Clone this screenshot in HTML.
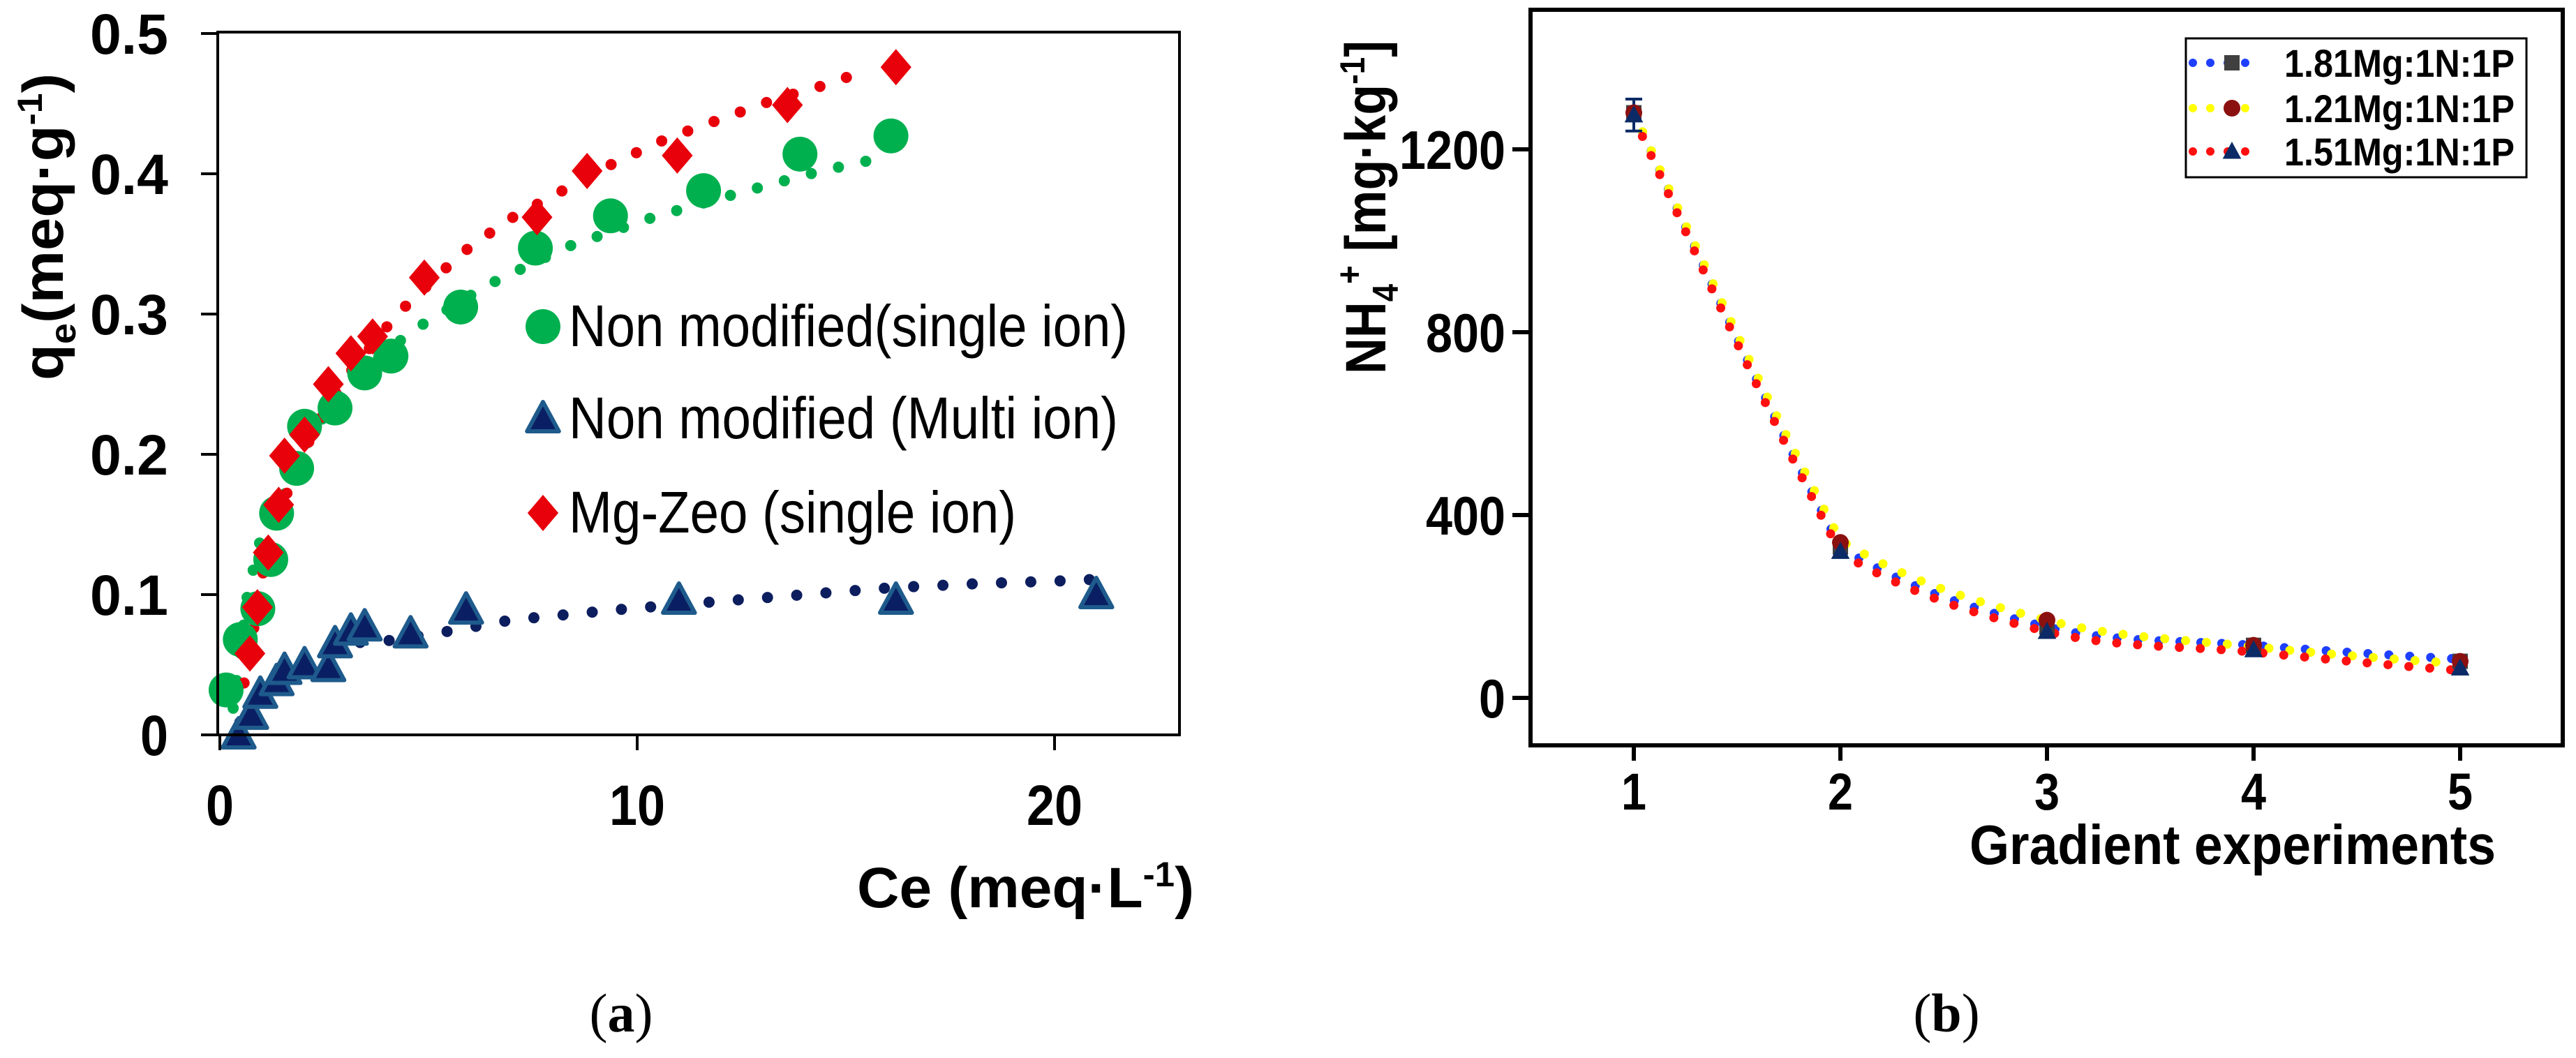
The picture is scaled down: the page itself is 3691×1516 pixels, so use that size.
<!DOCTYPE html>
<html><head><meta charset="utf-8">
<style>
html,body{margin:0;padding:0;background:#fff;}
svg{display:block;}
text{font-family:"Liberation Sans",sans-serif;}
</style></head>
<body>
<svg id="fig" width="3691" height="1516" viewBox="0 0 3691 1516" xmlns="http://www.w3.org/2000/svg">
  <g id="chartA"></g>
  <g id="chartB"></g>
</svg>
<script>
// ---------- Chart (a) data ----------
const aTicksX = [0, 10, 20];
const aTicksY = [0, 0.1, 0.2, 0.3, 0.4, 0.5];
const aTickLabelsY = ["0", "0.1", "0.2", "0.3", "0.4", "0.5"];
const aSingleC = [0.15, 0.49, 0.91, 1.22, 1.36, 1.84, 2.03, 2.76, 3.47, 4.10, 5.77, 7.56, 9.36, 11.59, 13.9, 16.08];
const aSingleQ = [0.032, 0.068, 0.09, 0.125, 0.158, 0.19, 0.22, 0.233, 0.258, 0.27, 0.305, 0.347, 0.37, 0.388, 0.414, 0.427];
const aSingleFitC = [0.32, 0.66, 0.97, 1.36, 2.22, 3.18, 4.66, 6.44, 8.33, 10.38, 12.4, 14.4, 15.8];
const aSingleFitQ = [0.019, 0.10, 0.139, 0.158, 0.216, 0.254, 0.289, 0.321, 0.348, 0.369, 0.386, 0.402, 0.411];
const aMgC = [0.72, 0.9, 1.16, 1.41, 1.55, 2.03, 2.6, 3.14, 3.66, 4.9, 7.6, 8.8, 10.96, 13.6, 16.2];
const aMgQ = [0.058, 0.091, 0.13, 0.164, 0.199, 0.214, 0.25, 0.272, 0.284, 0.326, 0.369, 0.402, 0.413, 0.449, 0.476];
const aMgFitC = [0.58, 0.83, 1.06, 1.36, 1.74, 2.2, 2.6, 3.0, 4.25, 5.78, 6.9, 8.15, 9.4, 10.7, 12.0, 13.3, 14.7, 15.3];
const aMgFitQ = [0.037, 0.079, 0.12, 0.158, 0.18, 0.214, 0.235, 0.254, 0.30, 0.343, 0.367, 0.387, 0.407, 0.425, 0.439, 0.453, 0.465, 0.472];
const aMultiC = [0.45, 0.75, 0.97, 1.36, 1.55, 2.03, 2.6, 2.76, 3.14, 3.47, 4.57, 5.9, 11.0, 16.2, 21.0];
const aMultiQ = [0.0, 0.014, 0.029, 0.038, 0.046, 0.05, 0.048, 0.065, 0.074, 0.077, 0.072, 0.089, 0.096, 0.096, 0.1];
const aMultiFitC = [0.48, 0.87, 1.45, 2.03, 2.8, 3.47, 4.0, 5.5, 7.0, 8.4, 9.8, 11.9, 14.0, 16.1, 18.3, 20.4, 21.0];
const aMultiFitQ = [0.009, 0.024, 0.036, 0.046, 0.06, 0.067, 0.067, 0.074, 0.082, 0.086, 0.09, 0.095, 0.1, 0.105, 0.108, 0.11, 0.111];

// ---------- Chart (b) data ----------
const bTicksX = [1, 2, 3, 4, 5];
const bTicksY = [0, 400, 800, 1200];
const bSeries181 = [1280, 330, 155, 115, 80];
const bSeries121 = [1280, 340, 170, 115, 80];
const bSeries151 = [1275, 320, 145, 105, 65];
const bFit181 = [1280, 330, 155, 115, 85];
const bFit121 = [1280, 345, 170, 112, 75];
const bFit151 = [1270, 318, 145, 100, 60];
const bError1 = 35;

const NS = "http://www.w3.org/2000/svg";
function mk(parent, tag, attrs, text) {
  const e = document.createElementNS(NS, tag);
  for (const k in attrs) e.setAttribute(k, attrs[k]);
  if (text !== undefined) e.textContent = text;
  parent.appendChild(e);
  return e;
}

// ===== Chart A =====
const A = document.getElementById('chartA');
const aX = c => 315 + 59.8 * c;
const aY = q => 1053 - 2010 * q;

function dotted(parent, xs, ys, fx, fy, color, w, gap, name) {
  let d = '';
  xs.forEach((v, i) => { d += (i ? 'L' : 'M') + fx(v).toFixed(1) + ',' + fy(ys[i]).toFixed(1); });
  const p = mk(parent, 'path', {d: d, fill: 'none', stroke: color, 'stroke-width': w, 'stroke-linecap': 'round', 'stroke-dasharray': '0 ' + gap});
  
  
  return p;
}

dotted(A, aSingleFitC, aSingleFitQ, aX, aY, '#00b04f', 16, 40, 'single-ion-fit-line');
dotted(A, aMgFitC, aMgFitQ, aX, aY, '#e8000b', 16, 40, 'mg-zeo-fit-line');
dotted(A, aMultiFitC, aMultiFitQ, aX, aY, '#0c1e5e', 16, 42, 'multi-ion-fit-line');

function circle(parent, x, y, r, fill, name) {
  const c = mk(parent, 'circle', {cx: x, cy: y, r: r, fill: fill});
  
  
  return c;
}
function diamond(parent, x, y, s, fill, name) {
  const p = mk(parent, 'polygon', {points: `${x},${y-s} ${x+s*0.85},${y} ${x},${y+s} ${x-s*0.85},${y}`, fill: fill});
  
  
  return p;
}
function triangle(parent, x, y, s, fill, stroke, sw, name) {
  const p = mk(parent, 'polygon', {points: `${x},${y-s} ${x+s*0.95},${y+s*0.75} ${x-s*0.95},${y+s*0.75}`, fill: fill, stroke: stroke, 'stroke-width': sw, 'stroke-linejoin': 'round'});
  
  
  return p;
}

aSingleC.forEach((c, i) => circle(A, aX(c), aY(aSingleQ[i]), 25, '#00b04f', 'single-ion-point'));
aMultiC.forEach((c, i) => triangle(A, aX(c), aY(aMultiQ[i]), 24, '#0a1f63', '#1e5b8c', 6, 'multi-ion-point'));
aMgC.forEach((c, i) => diamond(A, aX(c), aY(aMgQ[i]), 26, '#e8000b', 'mg-zeo-point'));

const aFrame = mk(A, 'rect', {x: 312, y: 46, width: 1378, height: 1007, fill: 'none', stroke: '#000', 'stroke-width': 4});



aTicksY.forEach((v, i) => {
  const t = mk(A, 'line', {x1: 288, x2: 312, y1: aY(v), y2: aY(v), stroke: '#000', 'stroke-width': 4});
  
  
  const l = mk(A, 'text', {x: 241, y: aY(v) + 29, 'text-anchor': 'end', 'font-size': 82, 'font-weight': 'bold', textLength: aTickLabelsY[i].length > 1 ? 112 : 40, lengthAdjust: 'spacingAndGlyphs'}, aTickLabelsY[i]);
  
  
});
aTicksX.forEach(v => {
  const t = mk(A, 'line', {x1: aX(v), x2: aX(v), y1: 1053, y2: 1075, stroke: '#000', 'stroke-width': 4});
  
  
  const s = String(v);
  const l = mk(A, 'text', {x: aX(v), y: 1182, 'text-anchor': 'middle', 'font-size': 82, 'font-weight': 'bold', textLength: s.length * 40, lengthAdjust: 'spacingAndGlyphs'}, s);
  
  
});

const aXT = mk(A, 'text', {x: 1228, y: 1300, 'font-size': 82, 'font-weight': 'bold', textLength: 483, lengthAdjust: 'spacingAndGlyphs'});


aXT.innerHTML = 'Ce (meq·L<tspan dy="-30" font-size="50">-1</tspan><tspan dy="30">)</tspan>';

const aYT = mk(A, 'text', {x: 0, y: 0, 'font-size': 82, 'font-weight': 'bold', 'text-anchor': 'middle', transform: 'translate(90,325) rotate(-90)', textLength: 440, lengthAdjust: 'spacingAndGlyphs'});


aYT.innerHTML = 'q<tspan dy="18" font-size="52">e</tspan><tspan dy="-18">(meq·g</tspan><tspan dy="-30" font-size="50">-1</tspan><tspan dy="30">)</tspan>';

const aLeg = mk(A, 'g', {});


circle(aLeg, 778, 468, 25, '#00b04f', 'legend-marker-single-ion');
triangle(aLeg, 778, 600, 24, '#0a1f63', '#1e5b8c', 6, 'legend-marker-multi-ion');
diamond(aLeg, 778, 735, 26, '#e8000b', 'legend-marker-mg-zeo');
const legTexts = [['Non modified(single ion)', 468, 801], ['Non modified (Multi ion)', 600, 787], ['Mg-Zeo (single ion)', 735, 641]];
legTexts.forEach(t => {
  const l = mk(aLeg, 'text', {x: 815, y: t[1] + 28, 'font-size': 84, textLength: t[2], lengthAdjust: 'spacingAndGlyphs'}, t[0]);
  
  
});

const capA = mk(A, 'text', {x: 890, y: 1478, 'text-anchor': 'middle', 'font-size': 78, style: 'font-family:"Liberation Serif",serif'});


capA.innerHTML = '(<tspan font-weight="bold">a</tspan>)';

// ===== Chart B =====
const B = document.getElementById('chartB');
const bX = g => 2341 + 296 * (g - 1);
const bY = v => 1000 - 0.655 * v;

function fitPath(xs, ys, fx, fy) {
  const n = xs.length, px = xs.map(fx), py = ys.map(fy);
  const m = [];
  for (let i = 0; i < n - 1; i++) m.push((py[i+1] - py[i]) / (px[i+1] - px[i]));
  // first segment nearly straight; then decaying curve
  let d = 'M' + px[0] + ',' + py[0];
  const h0 = (px[1] - px[0]) / 3;
  d += `C${px[0]+h0},${py[0]+m[0]*1.05*h0} ${px[1]-h0},${py[1]-m[0]*0.9*h0} ${px[1]},${py[1]}`;
  const t = [];
  t[1] = m[1] * 1.6;
  for (let i = 2; i < n - 1; i++) t[i] = (m[i-1] + m[i]) / 2;
  t[n-1] = m[n-2] * 0.8;
  for (let i = 1; i < n - 1; i++) {
    const h = (px[i+1] - px[i]) / 3;
    d += `C${px[i]+h},${py[i]+t[i]*h} ${px[i+1]-h},${py[i+1]-t[i+1]*h} ${px[i+1]},${py[i+1]}`;
  }
  return d;
}
function bFit(ys, color, name) {
  const p = mk(B, 'path', {d: fitPath(bTicksX, ys, bX, bY), fill: 'none', stroke: color, 'stroke-width': 13, 'stroke-linecap': 'round', 'stroke-dasharray': '0 30'});
  
  
}
bFit(bFit181, '#1f3fff', 'fit-line-1-81');
bFit(bFit121, '#ffff00', 'fit-line-1-21');
bFit(bFit151, '#ff1010', 'fit-line-1-51');

const eb = mk(B, 'path', {d: `M${bX(1)},${bY(bSeries151[0]+bError1)}V${bY(bSeries151[0]-bError1)}M${bX(1)-12},${bY(bSeries151[0]+bError1)}h24M${bX(1)-12},${bY(bSeries151[0]-bError1)}h24`, stroke: '#0b2a66', 'stroke-width': 4, fill: 'none'});



bTicksX.forEach((g, i) => {
  const s = mk(B, 'rect', {x: bX(g) - 11, y: bY(bSeries181[i]) - 11, width: 22, height: 22, fill: '#404040'});
  
  
});
bTicksX.forEach((g, i) => circle(B, bX(g), bY(bSeries121[i]), 12, '#8b1010', 'point-1-21'));
bTicksX.forEach((g, i) => triangle(B, bX(g), bY(bSeries151[i]), 14, '#0b2a66', 'none', 0, 'point-1-51'));

const bFrame = mk(B, 'rect', {x: 2193, y: 14, width: 1479, height: 1054, fill: 'none', stroke: '#000', 'stroke-width': 6});



bTicksY.forEach(v => {
  const t = mk(B, 'line', {x1: 2167, x2: 2193, y1: bY(v), y2: bY(v), stroke: '#000', 'stroke-width': 6});
  
  
  const s = String(v);
  const l = mk(B, 'text', {x: 2157, y: bY(v) + 28, 'text-anchor': 'end', 'font-size': 78, 'font-weight': 'bold', textLength: s.length * 38, lengthAdjust: 'spacingAndGlyphs'}, s);
  
  
});
bTicksX.forEach(g => {
  const t = mk(B, 'line', {x1: bX(g), x2: bX(g), y1: 1068, y2: 1090, stroke: '#000', 'stroke-width': 6});
  
  
  const l = mk(B, 'text', {x: bX(g), y: 1160, 'text-anchor': 'middle', 'font-size': 74, 'font-weight': 'bold', textLength: 36, lengthAdjust: 'spacingAndGlyphs'}, String(g));
  
  
});

const bXT = mk(B, 'text', {x: 2822, y: 1238, 'font-size': 80, 'font-weight': 'bold', textLength: 754, lengthAdjust: 'spacingAndGlyphs'}, 'Gradient experiments');



const bYT = mk(B, 'text', {x: 0, y: 0, 'font-size': 82, 'font-weight': 'bold', 'text-anchor': 'middle', transform: 'translate(1985,297) rotate(-90)', textLength: 478, lengthAdjust: 'spacingAndGlyphs'});


bYT.innerHTML = 'NH<tspan dy="18" font-size="52">4</tspan><tspan dy="-52" font-size="52">+</tspan><tspan dy="34"> [mg·kg</tspan><tspan dy="-30" font-size="50">-1</tspan><tspan dy="30">]</tspan>';

const bLeg = mk(B, 'g', {});


const bLegBox = mk(bLeg, 'rect', {x: 3132, y: 55, width: 488, height: 199, fill: '#fff', stroke: '#000', 'stroke-width': 3});


const bLegRows = [['1.81Mg:1N:1P', 90, '#1f3fff'], ['1.21Mg:1N:1P', 155, '#ffff00'], ['1.51Mg:1N:1P', 217, '#ff1010']];
bLegRows.forEach((r, i) => {
  const ln = mk(bLeg, 'path', {d: `M3142,${r[1]}H3242`, stroke: r[2], 'stroke-width': 12, 'stroke-linecap': 'round', 'stroke-dasharray': '0 25'});
  
  
  if (i === 0) {
    const s = mk(bLeg, 'rect', {x: 3187, y: r[1] - 11, width: 22, height: 22, fill: '#404040'});
    
    
  } else if (i === 1) {
    circle(bLeg, 3198, r[1], 12, '#8b1010', 'legend-marker-1-21');
  } else {
    triangle(bLeg, 3198, r[1], 14, '#0b2a66', 'none', 0, 'legend-marker-1-51');
  }
  const l = mk(bLeg, 'text', {x: 3273, y: r[1] + 20, 'font-size': 56, 'font-weight': 'bold', textLength: 330, lengthAdjust: 'spacingAndGlyphs'}, r[0]);
  
  
});

const capB = mk(B, 'text', {x: 2789, y: 1478, 'text-anchor': 'middle', 'font-size': 78, style: 'font-family:"Liberation Serif",serif'});


capB.innerHTML = '(<tspan font-weight="bold">b</tspan>)';
</script>
</body></html>
